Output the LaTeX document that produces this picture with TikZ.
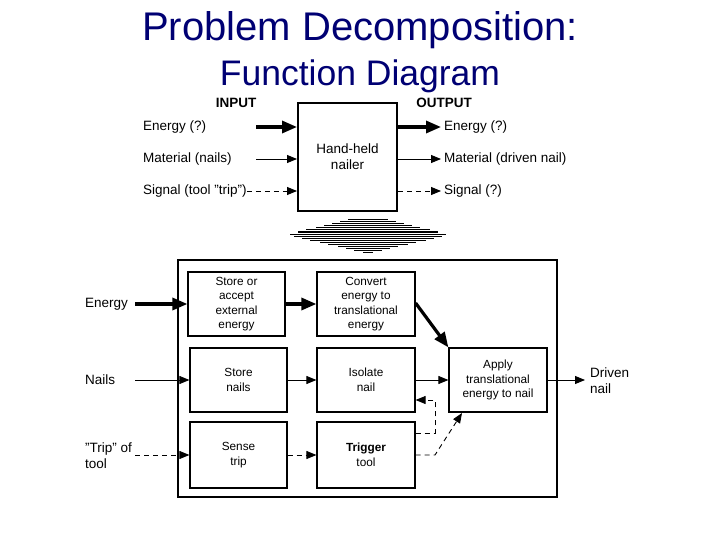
\documentclass[tikz,border=0pt]{standalone}
\usepackage{fontspec}
\setmainfont{Liberation Sans}
\usetikzlibrary{arrows.meta}
\begin{document}
\begin{tikzpicture}[x=1pt,y=-1pt,
  lbl/.style={font=\fontsize{13.5}{15}\selectfont,inner sep=0pt},
  blk/.style={draw,line width=1.2pt,align=center,font=\fontsize{11.8}{14.5}\selectfont,inner sep=0pt},
  thin/.style={-{Triangle[length=10pt,width=8pt]},line width=0.9pt},
  thick/.style={-{Triangle[length=15pt,width=12pt]},line width=3.2pt},
  dsh/.style={thin,dash pattern=on 5pt off 4pt}]
\useasboundingbox (0,0) rectangle (720,540);
\node[text=blue!45!black,font=\fontsize{40}{42}\selectfont] (t1) at (360,30) {Problem Decomposition:};
\node[text=blue!45!black,font=\fontsize{35.5}{38}\selectfont] (t2) at (360,76) {Function Diagram};
\node[font=\bfseries\fontsize{13.5}{15}\selectfont] (in) at (236,103) {INPUT};
\node[font=\bfseries\fontsize{13.5}{15}\selectfont] (out) at (444,103) {OUTPUT};
\node[blk,line width=2pt,minimum width=99pt,minimum height=108pt,font=\fontsize{13.5}{16}\selectfont] (hh) at (347.5,157) {Hand-held\\nailer};
\node[lbl,anchor=west] (e1) at (143,127) {Energy (?)};
\node[lbl,anchor=west] (m1) at (143,159) {Material (nails)};
\node[lbl,anchor=west] (s1) at (143,191) {Signal (tool "trip")};
\node[lbl,anchor=west] (e2) at (444,127) {Energy (?)};
\node[lbl,anchor=west] (m2) at (444,159) {Material (driven nail)};
\node[lbl,anchor=west] (s2) at (444,191) {Signal (?)};
\coordinate (ea) at (256,127); \coordinate (ma) at (256,159);
\draw[thick] (ea) -- (hh.west|-ea);
\draw[thin] (ma) -- (hh.west|-ma);
\draw[dsh] (s1.east) -- (hh.west|-s1);
\draw[thick,shorten >=3pt] (hh.east|-e2) -- (e2.west);
\draw[thin,shorten >=3pt] (hh.east|-m2) -- (m2.west);
\draw[dsh,shorten >=3pt] (hh.east|-s2) -- (s2.west);
% stripes
\foreach \y/\w in {220/20,222/28,224/36,226/44,228/52,230/62,232/70,234/78,236/74,238/66,240/58,242/48,244/40,246/30,248/22,250/14,252/5}
  \draw[line width=1pt] (368-\w,\y) -- (368+\w,\y);
% big box
\draw[line width=1.8pt] (178,260) rectangle (557,497);
\node[blk,minimum width=97pt,minimum height=64pt] (b1) at (236.5,304) {Store or\\accept\\external\\energy};
\node[blk,minimum width=98pt,minimum height=64pt] (b2) at (366,304) {Convert\\energy to\\translational\\energy};
\node[blk,minimum width=97pt,minimum height=64pt] (b3) at (238.5,380) {Store\\nails};
\node[blk,minimum width=98pt,minimum height=64pt] (b4) at (366,380) {Isolate\\nail};
\node[blk,minimum width=97pt,minimum height=66pt] (b5) at (238.5,455) {Sense\\trip};
\node[blk,minimum width=98pt,minimum height=66pt] (b6) at (366,455) {\textbf{Trigger}\\tool};
\node[blk,minimum width=98pt,minimum height=64pt] (b7) at (498,380) {Apply\\translational\\energy to nail};
\node[lbl,anchor=west] (le) at (85,304) {Energy};
\node[lbl,anchor=west] (ln) at (85,380) {Nails};
\node[lbl,anchor=west,align=left,font=\fontsize{13.5}{16}\selectfont] (lt) at (85,456) {"Trip" of\\tool};
\node[lbl,anchor=west,align=left,font=\fontsize{13.5}{16}\selectfont] (ld) at (590,381) {Driven\\nail};
\coordinate (le2) at (135,304); \coordinate (ln2) at (135,380); \coordinate (lt2) at (135,455);
\draw[thick] (le2) -- (b1.west|-le2);
\draw[thin] (ln2) -- (b3.west|-ln2);
\draw[dsh] (lt2) -- (b5.west|-lt2);
\draw[thick] (b1) -- (b2);
\draw[thin] (b3) -- (b4);
\draw[dsh] (b5) -- (b6);
\draw[thick] (b2.east|-303,303) -- (b7.north west);
\draw[thin] (b4) -- (b7);
\coordinate (ap) at (585,380);
\draw[thin] (b7) -- (ap);
\draw[dsh] (b6.east|-0,433) -- (435,433) -- (435,400) -- (b4.east|-0,400);
\draw[dsh] (b6.east|-0,455) -- (435,455) -- (462,413);
\end{tikzpicture}
\end{document}
